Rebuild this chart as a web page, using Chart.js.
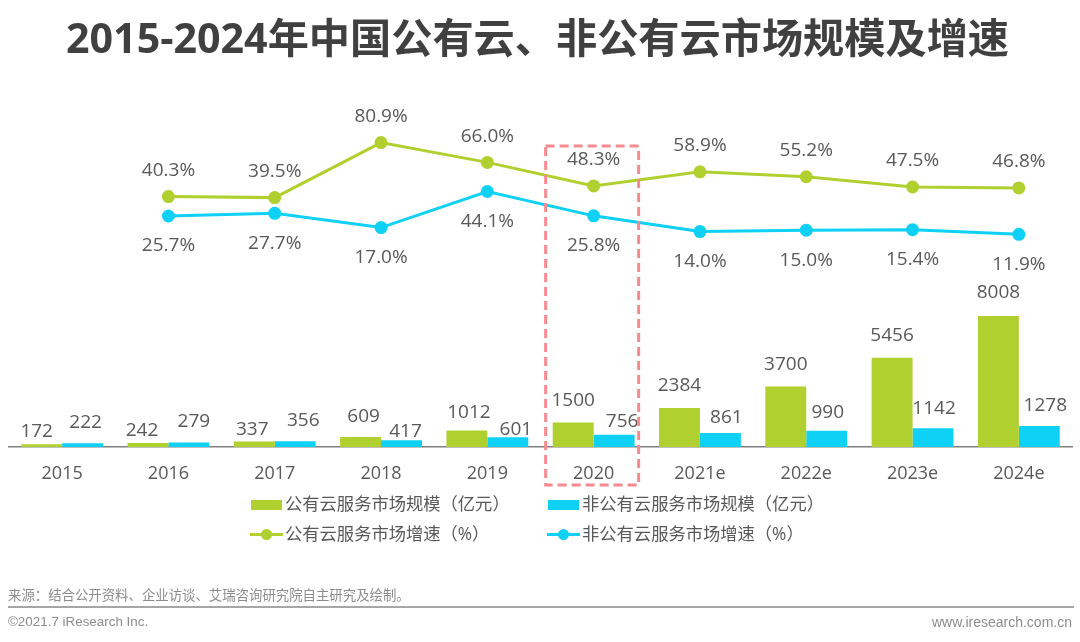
<!DOCTYPE html>
<html lang="zh">
<head>
<meta charset="utf-8">
<script src="https://cdn.jsdelivr.net/npm/chart.js@4"></script>
<style>
  html, body { margin: 0; padding: 0; background: #fff; }
  body { position: relative; width: 1080px; height: 642px; overflow: hidden; font-family: "Open Sans", "Noto Sans CJK SC", sans-serif; }
  canvas { position: absolute; left: 0; top: 0; }
  .title { position: absolute; left: 0; right: 0; top: 10px; padding-right: 5px; text-align: center; font-size: 41.2px; font-weight: 700; color: #404040; line-height: 54px; white-space: nowrap; }
  .legend-item { position: absolute; font-size: 17.3px; color: #595959; line-height: 24px; white-space: nowrap; }
  .swatch { position: absolute; left: -34px; top: 8px; width: 31px; height: 10px; }
  .swatch-line { position: absolute; left: -35px; top: 10.5px; width: 33px; height: 3px; }
  .swatch-line i { position: absolute; left: 11px; top: -4px; width: 11px; height: 11px; border-radius: 50%; background: inherit; }
  .source { position: absolute; left: 8px; top: 586px; font-size: 13.4px; color: #8c8c8c; line-height: 18px; }
  .rule { position: absolute; left: 8px; right: 6px; top: 606px; height: 2px; background: #a6a6a6; }
  .foot { position: absolute; top: 613px; font-family: "Liberation Sans", sans-serif; font-size: 13.4px; color: #8c8c8c; line-height: 18px; }
</style>
</head>
<body>
<canvas id="chart" width="1080" height="642"></canvas>
<div class="title">2015-2024年中国公有云、非公有云市场规模及增速</div>
<div class="legend-item" style="left:285px;top:492px"><span class="swatch" style="background:#b0d02f"></span>公有云服务市场规模（亿元）</div>
<div class="legend-item" style="left:582px;top:492px"><span class="swatch" style="background:#0fd0f5"></span>非公有云服务市场规模（亿元）</div>
<div class="legend-item" style="left:285px;top:522px"><span class="swatch-line" style="background:#b0d02f"><i></i></span>公有云服务市场增速（%）</div>
<div class="legend-item" style="left:582px;top:522px"><span class="swatch-line" style="background:#0fd0f5"><i></i></span>非公有云服务市场增速（%）</div>
<div class="source">来源：结合公开资料、企业访谈、艾瑞咨询研究院自主研究及绘制。</div>
<div class="rule"></div>
<div class="foot" style="left:8px">©2021.7 iResearch Inc.</div>
<div class="foot" style="right:8px;font-size:14px">www.iresearch.com.cn</div>
<script>
const YEARS = ["2015", "2016", "2017", "2018", "2019", "2020", "2021e", "2022e", "2023e", "2024e"];
const PUBLIC_SIZE = [172, 242, 337, 609, 1012, 1500, 2384, 3700, 5456, 8008];
const PRIVATE_SIZE = [222, 279, 356, 417, 601, 756, 861, 990, 1142, 1278];
const PUBLIC_GROWTH = [null, 40.3, 39.5, 80.9, 66.0, 48.3, 58.9, 55.2, 47.5, 46.8];
const PRIVATE_GROWTH = [null, 25.7, 27.7, 17.0, 44.1, 25.8, 14.0, 15.0, 15.4, 11.9];

// label nudges in px, hand-fitted to the reference
const PUBLIC_SIZE_DY = [-13, -12, -12, -20, -18, -22, -22, -22, -22, -23];
const PUBLIC_SIZE_DX = [-5, -6, -2, 3, 2, 0, 0, 0, 0, 0];
const PRIVATE_SIZE_DY = [-21, -21, -21, -9, -8, -13, -15, -18, -20, -20];
const PRIVATE_SIZE_DX = [3, 5, 8, 4, 8, 8, 6, 1, 1, 6];

const GREEN = "#b0d02f";
const BLUE = "#0fd0f5";
const TEXT = "#595959";
const FONT = '19px "Open Sans", "Noto Sans CJK SC", sans-serif';

// draws the value labels and the dashed highlight around 2020
const overlay = {
  id: "overlay",
  afterDatasetsDraw(chart) {
    const { ctx } = chart;
    ctx.save();
    ctx.font = FONT;
    ctx.fillStyle = TEXT;
    ctx.textAlign = "center";
    ctx.textBaseline = "middle";

    chart.getDatasetMeta(0).data.forEach((bar, i) => {
      ctx.fillText(PUBLIC_SIZE[i], bar.x + PUBLIC_SIZE_DX[i], bar.y + PUBLIC_SIZE_DY[i]);
    });
    chart.getDatasetMeta(1).data.forEach((bar, i) => {
      ctx.fillText(PRIVATE_SIZE[i], bar.x + PRIVATE_SIZE_DX[i], bar.y + PRIVATE_SIZE_DY[i]);
    });
    chart.getDatasetMeta(2).data.forEach((pt, i) => {
      if (PUBLIC_GROWTH[i] !== null) ctx.fillText(PUBLIC_GROWTH[i].toFixed(1) + "%", pt.x, pt.y - 26);
    });
    chart.getDatasetMeta(3).data.forEach((pt, i) => {
      if (PRIVATE_GROWTH[i] !== null) ctx.fillText(PRIVATE_GROWTH[i].toFixed(1) + "%", pt.x, pt.y + 30);
    });

    const cx = chart.scales.x.getPixelForValue(5);
    ctx.strokeStyle = "#f58a90";
    ctx.lineWidth = 3;
    ctx.setLineDash([9, 5]);
    ctx.strokeRect(cx - 48, 146, 93, 339);
    ctx.restore();
  },
};

new Chart(document.getElementById("chart"), {
  type: "bar",
  data: {
    labels: YEARS,
    datasets: [
      { label: "公有云服务市场规模（亿元）", data: PUBLIC_SIZE, backgroundColor: GREEN, yAxisID: "ySize", order: 2 },
      { label: "非公有云服务市场规模（亿元）", data: PRIVATE_SIZE, backgroundColor: BLUE, yAxisID: "ySize", order: 2 },
      { type: "line", label: "公有云服务市场增速（%）", data: PUBLIC_GROWTH, borderColor: GREEN, backgroundColor: GREEN, borderWidth: 3, pointRadius: 5, yAxisID: "yGrowth", order: 1 },
      { type: "line", label: "非公有云服务市场增速（%）", data: PRIVATE_GROWTH, borderColor: BLUE, backgroundColor: BLUE, borderWidth: 3, pointRadius: 5, yAxisID: "yGrowth", order: 1 },
    ],
  },
  options: {
    responsive: false,
    animation: false,
    layout: { padding: { left: 9, right: 5, top: 100, bottom: 0 } },
    datasets: { bar: { barPercentage: 1, categoryPercentage: 0.77 } },
    plugins: { legend: { display: false }, tooltip: { enabled: false } },
    scales: {
      x: {
        grid: { display: false },
        border: { display: true, color: "#808080", width: 1.5 },
        ticks: { color: TEXT, font: { family: '"Open Sans", sans-serif', size: 18 }, padding: 8, maxRotation: 0 },
        afterFit(scale) { scale.height = 195; },
      },
      ySize: { display: false, min: 0, max: 21210 },
      yGrowth: { display: false, min: -148, max: 112.9 },
    },
  },
  plugins: [overlay],
});
</script>
</body>
</html>
